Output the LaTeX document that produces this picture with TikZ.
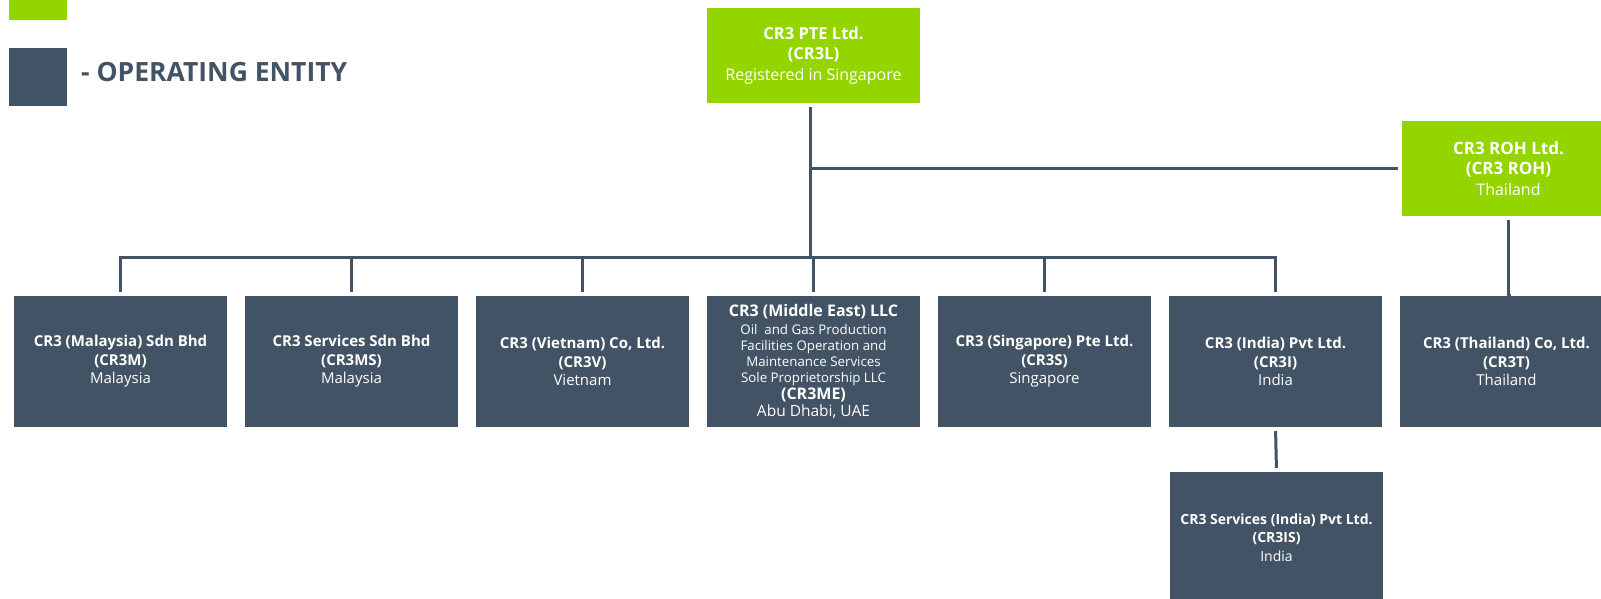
\documentclass[tikz,border=0pt]{standalone}
\usepackage{fontspec}
\setmainfont{Open Sans}
\usepackage{tikz}
\usetikzlibrary{positioning}
\definecolor{crgreen}{HTML}{94D500}
\definecolor{crslate}{HTML}{435366}

\begin{document}
\begin{tikzpicture}[x=1pt, y=-1pt,
    holding/.style={fill=crgreen, text=white, minimum width=213pt, minimum height=95pt, inner sep=0pt, align=center, font=\fontsize{16}{20.5}\selectfont},
    entity/.style={fill=crslate, text=white, minimum width=213pt, minimum height=131pt, inner sep=0pt, align=center, font=\fontsize{15}{18.5}\selectfont},
    link/.style={draw=crslate, line width=3pt}]
    \useasboundingbox (0,0) rectangle (1601,599);
    % legend
    \fill[crgreen] (9,-38) rectangle (67,20);
    \fill[crslate] (9,48) rectangle (67,106);
    \node[anchor=base west, inner sep=0pt, text=crslate, font=\bfseries\fontsize{26.5}{30}\selectfont] (legend) at (81,82) {- OPERATING ENTITY};
    % holding companies
    \node[holding] (cr3l) at (813.5,55.5) {{\fontsize{16.5}{20.5}\selectfont\textbf{CR3 PTE Ltd.}}\\{\fontsize{16.5}{20.5}\selectfont\textbf{(CR3L)}}\\Registered in Singapore};
    \node[holding] (roh) at (1508.5,168.5) {{\fontsize{17}{20.5}\selectfont\textbf{CR3 ROH Ltd.}}\\{\fontsize{17}{20.5}\selectfont\textbf{(CR3 ROH)}}\\Thailand};
    % operating entities
    \node[entity] (m) at (120.5,361.5) {\textbf{CR3 (Malaysia) Sdn Bhd}\\\textbf{(CR3M)}\\Malaysia};
    \node[entity] (ms) at (351.5,361.5) {\textbf{CR3 Services Sdn Bhd}\\\textbf{(CR3MS)}\\Malaysia};
    \node[entity] (v) at (582.5,361.5) {\textbf{CR3 (Vietnam) Co, Ltd.}\\\textbf{(CR3V)}\\Vietnam};
    \node[entity, font=\fontsize{13.3}{16}\selectfont] (me) at (813.5,361.5) {{\fontsize{16}{16}\selectfont\textbf{CR3 (Middle East) LLC}}\\[2pt]Oil\ \ and Gas Production\\Facilities Operation and\\Maintenance Services\\Sole Proprietorship LLC\\[1pt]{\fontsize{16}{16}\selectfont\textbf{(CR3ME)}}\\[1pt]{\fontsize{15.5}{16}\selectfont Abu Dhabi, UAE}};
    \node[entity] (s) at (1044.5,361.5) {\textbf{CR3 (Singapore) Pte Ltd.}\\\textbf{(CR3S)}\\Singapore};
    \node[entity] (i) at (1275.5,361.5) {\textbf{CR3 (India) Pvt Ltd.}\\\textbf{(CR3I)}\\India};
    \node[entity] (t) at (1506.5,361.5) {\textbf{CR3 (Thailand) Co, Ltd.}\\\textbf{(CR3T)}\\Thailand};
    \node[entity, font=\fontsize{14}{18.5}\selectfont] (is) at (1276.5,537.5) {\textbf{CR3 Services (India) Pvt Ltd.}\\\textbf{(CR3IS)}\\India};
    % connectors
    \coordinate (bus) at (810,257);
    \draw[link, shorten <=4pt] (bus |- cr3l.south) -- (bus);
    \draw[link, shorten >=4pt] (bus |- roh.west) -- (roh.west);
    \draw[link, shorten <=4pt, shorten >=4pt] (m.north) -- (m.north |- bus) -- (i.north |- bus) -- (i.north);
    \foreach \n in {ms,v,me,s}
        \draw[link, shorten >=4pt] ([xshift=-0.5pt]\n.north |- bus) -- ([xshift=-0.5pt]\n.north);
    \draw[link, shorten <=4pt, shorten >=4pt] (roh.south) -- (roh.south |- t.north) -- (t.north);
    \draw[link, shorten <=4pt, shorten >=4pt] (i.south) -- (is.north);
\end{tikzpicture}
\end{document}
